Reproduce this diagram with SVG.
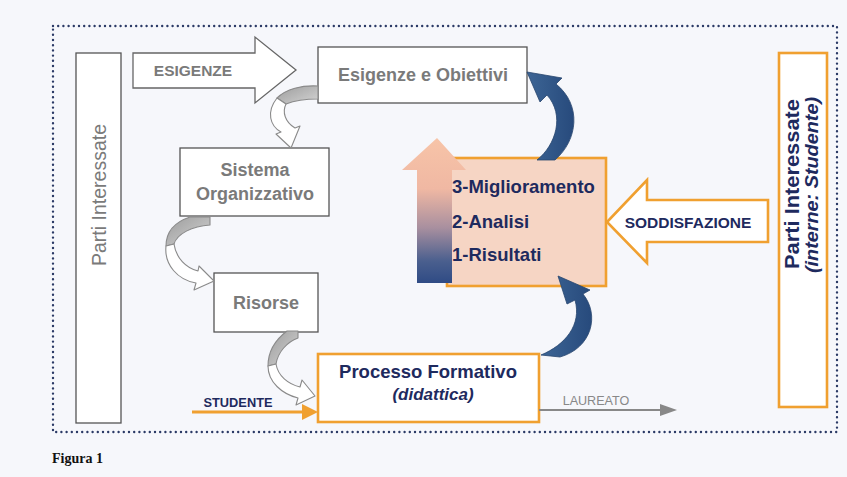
<svg xmlns="http://www.w3.org/2000/svg" width="847" height="477" viewBox="0 0 847 477">
<defs>
<style>
.box{fill:#ffffff;stroke:#555;stroke-width:1.3}
.obox{fill:#ffffff;stroke:#f0a030;stroke-width:2.6}
.gt{font-family:"Liberation Sans",Arial,sans-serif;font-weight:bold;fill:#7a7a7a}
.nt{font-family:"Liberation Sans",Arial,sans-serif;font-weight:bold;fill:#1e2a5e}
.rib{stroke:#8a8a8a;stroke-width:1.1;stroke-linejoin:round}
.blue{fill:url(#bl);stroke:#28466f;stroke-width:0.8}
</style>
<linearGradient id="vg" x1="0" y1="0" x2="0" y2="1">
<stop offset="0" stop-color="#f7c4a8"/>
<stop offset="0.35" stop-color="#f0b8a3"/>
<stop offset="0.62" stop-color="#a88f9f"/>
<stop offset="0.85" stop-color="#4a5f8e"/>
<stop offset="1" stop-color="#2f4b85"/>
</linearGradient>
<linearGradient id="gg" x1="0" y1="0" x2="1" y2="1">
<stop offset="0" stop-color="#9c9c9c"/>
<stop offset="1" stop-color="#d4d4d4"/>
</linearGradient>
<linearGradient id="bl" x1="0" y1="0" x2="1" y2="0">
<stop offset="0" stop-color="#3d6595"/>
<stop offset="1" stop-color="#274a7c"/>
</linearGradient>
</defs>
<rect x="0" y="0" width="847" height="477" fill="#f6f7fb"/>
<rect x="53" y="26" width="784" height="406" fill="none" stroke="#2b3a66" stroke-width="2.4" stroke-dasharray="0 5.2" stroke-linecap="round"/>

<g id="parti-interessate-left">
<rect class="box" x="76" y="53" width="45" height="370"/>
<text transform="translate(105.5,195) rotate(-90)" text-anchor="middle" font-family="Liberation Sans, Arial, sans-serif" font-size="19.5" fill="#7a7a7a">Parti Interessate</text>
</g>

<g id="esigenze-obiettivi">
<rect class="box" x="318" y="47" width="209" height="56"/>
<text class="gt" x="423" y="81" font-size="18" text-anchor="middle">Esigenze e Obiettivi</text>
</g>

<g id="sistema-organizzativo">
<rect class="box" x="180" y="148" width="149" height="68"/>
<text class="gt" x="255" y="176" font-size="18" text-anchor="middle">Sistema</text>
<text class="gt" x="255" y="200" font-size="18" text-anchor="middle">Organizzativo</text>
</g>

<g id="risorse">
<rect class="box" x="214" y="273" width="104" height="59"/>
<text class="gt" x="266" y="309" font-size="18" text-anchor="middle">Risorse</text>
</g>

<g id="processo-formativo">
<rect class="obox" x="318" y="354" width="221" height="68"/>
<text class="nt" x="428" y="378" font-size="18.5" text-anchor="middle">Processo Formativo</text>
<text class="nt" x="433" y="400" font-size="17" font-style="italic" text-anchor="middle">(didattica)</text>
</g>

<g id="pdca">
<rect x="447" y="158" width="159" height="128" fill="#f6d5c4" stroke="#f0a030" stroke-width="2.6"/>
<path d="M417,283 L417,170 L402,170 L437,138 L466,170 L452,170 L452,283 Z" fill="url(#vg)"/>
<text class="nt" x="452" y="193" font-size="18.5">3-Miglioramento</text>
<text class="nt" x="452" y="228" font-size="18.5">2-Analisi</text>
<text class="nt" x="452" y="261" font-size="18.5">1-Risultati</text>
</g>

<g id="parti-interessate-right">
<rect x="779" y="53" width="48" height="354" fill="#ffffff" stroke="#f0a030" stroke-width="2.6"/>
<text class="nt" transform="translate(799,269) rotate(-90)" font-size="20" textLength="170" lengthAdjust="spacingAndGlyphs">Parti Interessate</text>
<text class="nt" transform="translate(818,273) rotate(-90)" font-size="17.5" font-style="italic" textLength="176" lengthAdjust="spacingAndGlyphs">(interne: Studente)</text>
</g>

<g id="connectors">
<path d="M133,53 L255,53 L255,37 L296,70 L255,103 L255,88 L133,88 Z" fill="#ffffff" stroke="#666" stroke-width="1.3" stroke-linejoin="miter"/>
<text class="gt" x="193" y="76" font-size="15.5" text-anchor="middle">ESIGENZE</text>

<path d="M768,200 L647,200 L647,180 L607,222 L647,263 L647,242 L768,242 Z" fill="#ffffff" stroke="#f0a030" stroke-width="2.6" stroke-linejoin="miter"/>
<text class="nt" x="688" y="228" font-size="15.5" text-anchor="middle">SODDISFAZIONE</text>

<path class="rib" d="M318,86 C302,85 286,89 277,98 L286,104 C296,100 306,99 318,99 Z" fill="url(#gg)"/>
<path class="rib" d="M277,98 C266,112 270,126 281,132 L276,134 L291,148 L300,126 L295,128 C285,122 282,112 286,104 Z" fill="#ffffff"/>

<path class="rib" d="M210,217 L190,217 C175,222 166,232 166,246 L174,244 C177,234 192,226 210,225 Z" fill="url(#gg)"/>
<path class="rib" d="M166,246 C164,265 178,280 196,283 L194,290 L214,281 L199,266 L198,271 C186,268 176,258 174,244 Z" fill="#ffffff"/>

<path class="rib" d="M298,331 L287,331 C275,340 268,352 268,366 L276,364 C278,352 287,342 298,338 Z" fill="url(#gg)"/>
<path class="rib" d="M268,366 C268,382 282,394 298,398 L296,405 L315,396 L302,380 L300,387 C288,384 278,376 276,364 Z" fill="#ffffff"/>

<path class="blue" d="M537,160 C556,145 565,115 547,95 L540,102 L527,72 L562,78 L556,84 C582,105 578,140 555,160 Z"/>
<path class="blue" d="M541,355 C565,345 582,325 575,300 L567,304 L558,276 L590,290 L583,294 C600,315 592,348 560,357 Z"/>

<line x1="192" y1="412" x2="304" y2="412" stroke="#f0a030" stroke-width="3"/>
<path d="M302,404 L318,412 L302,420 Z" fill="#f0a030"/>
<text class="nt" x="238" y="407" font-size="12.8" text-anchor="middle">STUDENTE</text>

<line x1="539" y1="410" x2="662" y2="410" stroke="#888" stroke-width="2"/>
<path d="M660,404 L677,410 L660,416 Z" fill="#888"/>
<text x="596" y="405" font-family="Liberation Sans, Arial, sans-serif" font-size="12.6" fill="#888" text-anchor="middle">LAUREATO</text>
</g>

<text x="52" y="463" font-family="Liberation Serif, Times New Roman, serif" font-weight="bold" font-size="14" fill="#111">Figura 1</text>
</svg>
